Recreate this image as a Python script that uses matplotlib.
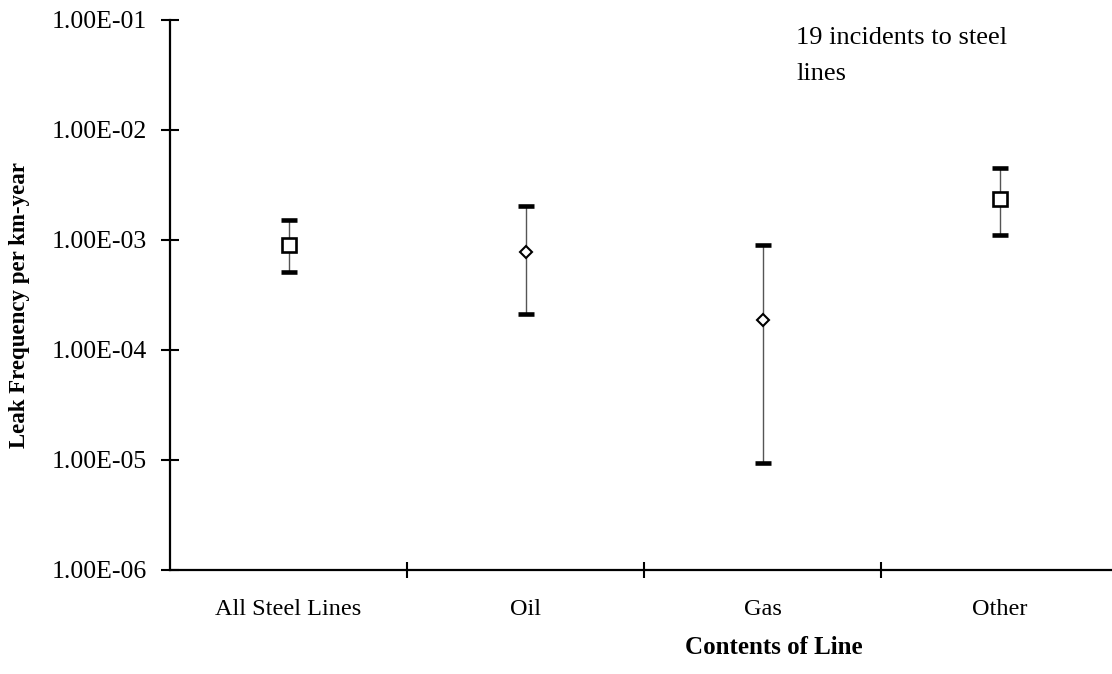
import matplotlib.pyplot as plt
import numpy as np
from matplotlib.ticker import FixedLocator, FixedFormatter, NullFormatter

# data
categories = ["All Steel Lines", "Oil", "Gas", "Other"]
best = [9.0e-4, 7.8e-4, 1.87e-4, 2.36e-3]
upper = [1.52e-3, 2.04e-3, 9.0e-4, 4.51e-3]
lower = [5.12e-4, 2.12e-4, 9.4e-6, 1.11e-3]
markers = ["s", "D", "D", "s"]
y_ticks = [1e-6, 1e-5, 1e-4, 1e-3, 1e-2, 1e-1]
y_tick_labels = ["1.00E-06", "1.00E-05", "1.00E-04", "1.00E-03", "1.00E-02", "1.00E-01"]
note = "19 incidents to steel\nlines"

plt.rcParams['font.family'] = ['Liberation Serif', 'DejaVu Serif']

fig = plt.figure(figsize=(11.12, 6.74), dpi=100)
ax = fig.add_axes([170 / 1112, 104 / 674, 948 / 1112, 550 / 674])

x = np.arange(1, len(categories) + 1)
for xi, b, u, l, m in zip(x, best, upper, lower, markers):
    ax.errorbar([xi], [b], yerr=[[b - l], [u - b]], fmt='none',
                ecolor='#555555', elinewidth=1.0, capsize=0, zorder=2)
    # thick black caps
    ax.plot([xi, xi], [l, u], linestyle='none', marker='_', markersize=11.5,
            markeredgewidth=3.3, color='black', zorder=3)
    if m == 's':
        ax.plot([xi], [b], marker='s', markersize=9.6, markerfacecolor='white',
                markeredgecolor='black', markeredgewidth=1.9, zorder=4)
    else:
        ax.plot([xi], [b], marker='D', markersize=6.6, markerfacecolor='white',
                markeredgecolor='black', markeredgewidth=1.5, zorder=4)

ax.set_yscale('log')
ax.set_ylim(1e-6, 1e-1)
ax.set_xlim(0.5, len(categories) + 0.5)

ax.yaxis.set_major_locator(FixedLocator(y_ticks))
ax.yaxis.set_major_formatter(FixedFormatter(y_tick_labels))
ax.yaxis.set_minor_locator(FixedLocator([]))
ax.tick_params(axis='y', which='major', direction='inout', length=13, width=1.5,
               labelsize=18.5, pad=10)

ax.xaxis.set_major_locator(FixedLocator(list(x[:-1] + 0.5)))
ax.xaxis.set_major_formatter(NullFormatter())
ax.xaxis.set_minor_locator(FixedLocator(list(x)))
ax.xaxis.set_minor_formatter(FixedFormatter(categories))
ax.tick_params(axis='x', which='major', direction='inout', length=12, width=1.5)
ax.tick_params(axis='x', which='minor', length=0, labelsize=17.5, pad=21)

for side in ['top', 'right']:
    ax.spines[side].set_visible(False)
for side in ['left', 'bottom']:
    ax.spines[side].set_linewidth(1.6)

fig.text(20 / 1112, 1 - 305 / 674, "Leak Frequency per km-year", rotation=90,
         fontsize=16.5, fontweight='bold', ha='center', va='center')
fig.text(774 / 1112, 1 - 648 / 674, "Contents of Line",
         fontsize=18, fontweight='bold', ha='center', va='center')
fig.text(796 / 1112, 1 - 27 / 674, note, fontsize=19, ha='left', va='top',
         linespacing=1.8)

fig.savefig("out.png", dpi=100, facecolor='white')
